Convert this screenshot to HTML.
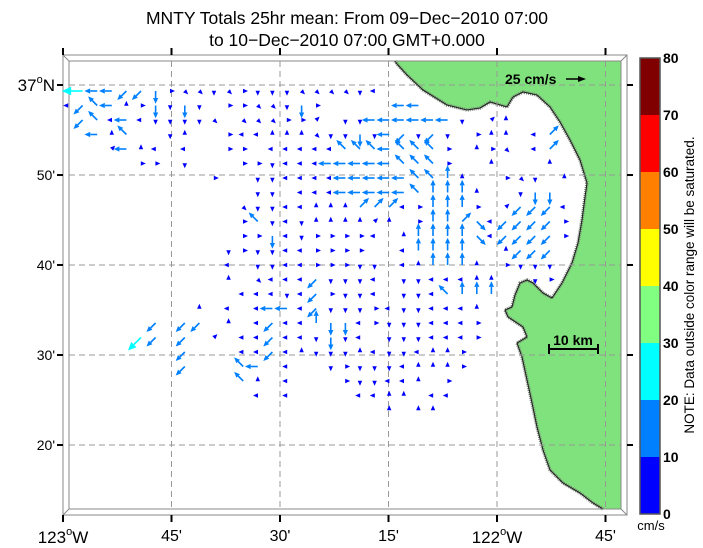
<!DOCTYPE html>
<html><head><meta charset="utf-8"><title>MNTY Totals</title>
<style>
html,body{margin:0;padding:0;background:#fff;}
svg{display:block;font-family:"Liberation Sans",Arial,sans-serif;}
</style></head>
<body>
<svg id="chart" width="703" height="548" viewBox="0 0 703 548" xmlns="http://www.w3.org/2000/svg">
<g>
<text x="347" y="24" font-size="17.5" text-anchor="middle">MNTY Totals 25hr mean: From 09−Dec−2010 07:00</text>
<text x="347" y="46" font-size="17.5" text-anchor="middle">to 10−Dec−2010 07:00 GMT+0.000</text>
</g>
<g id="land"></g>
<g id="frame">
<rect x="63" y="55" width="564" height="460" fill="none" stroke="#888" stroke-width="1"/>
<rect x="69" y="61" width="552" height="448" fill="none" stroke="#888" stroke-width="1"/>
<line x1="63" y1="55" x2="69" y2="61" stroke="#888"/>
<line x1="627" y1="55" x2="621" y2="61" stroke="#888"/>
<line x1="63" y1="515" x2="69" y2="509" stroke="#888"/>
<line x1="627" y1="515" x2="621" y2="509" stroke="#888"/>
</g>
<g id="grid"></g>
<g id="axes"></g>
<g id="vectors"></g>
<g>
<text x="505" y="84" font-size="14" font-weight="bold">25 cm/s</text>
<line x1="566" y1="79" x2="579" y2="79" stroke="#000" stroke-width="1.5"/>
<polygon points="586,79 578,76 578,82" fill="#000"/>
</g>
<g>
<text x="573" y="345" font-size="14" font-weight="bold" text-anchor="middle">10 km</text>
<line x1="549" y1="349" x2="598" y2="349" stroke="#000" stroke-width="2"/>
<line x1="549" y1="344" x2="549" y2="354" stroke="#000" stroke-width="2"/>
<line x1="598" y1="344" x2="598" y2="354" stroke="#000" stroke-width="2"/>
</g>
<g id="colorbar"></g>
<text x="651" y="530" font-size="13" text-anchor="middle">cm/s</text>
<text transform="translate(694,285) rotate(-90)" font-size="13.5" text-anchor="middle">NOTE: Data outside color range will be saturated.</text>
</svg>
<script>
// ---- data ----
var lonTicks = [-123, -122.75, -122.5, -122.25, -122, -121.75];
var lonTickLabels = ["123°W", "45'", "30'", "15'", "122°W", "45'"];
var latTicks = [37, 36.8333, 36.6667, 36.5, 36.3333];
var latTickLabels = ["37°N", "50'", "40'", "30'", "20'"];
var cbValues = [0, 10, 20, 30, 40, 50, 60, 70, 80];
var cbColors = ["#0000ff", "#0080ff", "#00ffff", "#80ff80", "#ffff00", "#ff8000", "#ff0000", "#800000"];
// vector field rows (north to south); digit = direction (numpad) weak, letter = stronger
var vecRows = [
".XDDAAB633236222333324.............",
"4AGD86B2B2.66332B6.....DD..........",
".AG4D422223.333669.22DDDDDD2.98....",
"..D8G..28..644888322B2DA2A2.688.4I.",
"...9D84.4..66.44444GGGDGGG6.863.4I.",
".....66.2...662444DDDDDGGG6..8...8.",
"..........6..224444DDDDDGGH8..632.8",
".............22.444DDDDDGHHH8..2BB.",
"............32244888III46HHH6.9AAA4",
"............6G242888898.6HHIC4AAAA6",
"............66B4266664.8HHHHC4AAAA6",
"...........2622446666..4HHHH..8AAA.",
"...........4.224466622.48HHH8.6222.",
"...........8.3444A2224.2244488..26.",
"............44424A6224.224GHHH.....",
".........8.4.4DD4A22264224448......",
"......A.AA.8.4A44HBB462224446......",
".....YA.A.9.44A442B24.2224446......",
"........A...44A4822284224886.......",
"........A...GD.4..2622248886.......",
"............G8.4...622448.6........",
".............4.4....4488.44........",
"......................8.88........."
];
var weakSpeed = 6, strongSpeed = 16;
var cyanSpeeds = {X: 26, Y: 23};
var gridLon0 = -122.9885, gridDLon = 0.03364, gridLat0 = 36.9889, gridDLat = 0.02685;
// coastline outline in map pixel space (map shape, not chart data)
var landPx = [
[395,61],[397,64],[407,75],[423,90],[447,105],[467,110],[480,108],[490,102],[507,107],[513,97],[523,92],[537,95],[550,107],[560,122],[570,140],[580,160],[587,183],[585,197],[582,220],[578,243],[572,263],[562,283],[552,298],[543,293],[533,283],[527,280],[520,283],[515,295],[512,307],[505,310],[508,317],[523,327],[527,337],[517,343],[522,357],[527,380],[532,403],[537,427],[543,450],[550,470],[563,483],[580,493],[593,503],[603,509]
];
// ---- scales ----
function xOf(lon){ return 63 + (lon + 123) * 434; }
function yOf(lat){ return 85 + (37 - lat) * 540; }
var NS = "http://www.w3.org/2000/svg";
function mk(tag, attrs, parent){ var e = document.createElementNS(NS, tag); for (var k in attrs) e.setAttribute(k, attrs[k]); parent.appendChild(e); return e; }

// land
var land = document.getElementById('land');
var coastPts = landPx.map(function(p){ return p[0] + "," + p[1]; }).join(" ");
var lp = mk('polygon', {points: coastPts + " 621,509 621,61", fill: '#80e27c', stroke: 'none'}, land);


mk('polyline', {points: coastPts, fill: 'none', stroke: '#7a8a78', 'stroke-width': 3.5, 'stroke-dasharray': '1,1'}, land);
var cl = mk('polyline', {points: coastPts, fill: 'none', stroke: '#222', 'stroke-width': 1.1}, land);



// grid + axes
var grid = document.getElementById('grid'), axes = document.getElementById('axes');
lonTicks.forEach(function(lon, i){
  var x = xOf(lon);
  if (i > 0) { var gl = mk('line', {x1: x, y1: 61, x2: x, y2: 509, stroke: '#999', 'stroke-dasharray': '6,4', 'stroke-width': 1}, grid);
    
     }
  mk('line', {x1: x, y1: 515, x2: x, y2: 522, stroke: '#000', 'stroke-width': 2}, axes);
  mk('line', {x1: x, y1: 48, x2: x, y2: 55, stroke: '#000', 'stroke-width': 2}, axes);
  var lbl = lonTickLabels[i];
  var t = mk('text', {x: x, y: 541, 'font-size': 16, 'text-anchor': 'middle'}, axes);
  
  
  if (lbl.indexOf('°') >= 0) {
    var parts = lbl.split('°');
    t.setAttribute('font-size', 17);
    t.setAttribute('y', 543);
    var a = mk('tspan', {}, t); a.textContent = parts[0];
    var b = mk('tspan', {'font-size': 11, dy: -8}, t); b.textContent = 'o';
    var c = mk('tspan', {dy: 8}, t); c.textContent = parts[1];
  } else { t.textContent = lbl; }
});
latTicks.forEach(function(lat, i){
  var y = yOf(lat);
  var gl = mk('line', {x1: 69, y1: y, x2: 621, y2: y, stroke: '#999', 'stroke-dasharray': '6,4', 'stroke-width': 1}, grid);
  
  
  mk('line', {x1: 57, y1: y, x2: 63, y2: y, stroke: '#000', 'stroke-width': 2}, axes);
  mk('line', {x1: 627, y1: y, x2: 633, y2: y, stroke: '#000', 'stroke-width': 2}, axes);
  var lbl = latTickLabels[i];
  var t = mk('text', {x: 55, y: y + 5, 'font-size': 14, 'text-anchor': 'end'}, axes);
  
  
  if (lbl.indexOf('°') >= 0) {
    var parts = lbl.split('°');
    t.setAttribute('font-size', 17);
    t.setAttribute('y', y + 6);
    var a = mk('tspan', {}, t); a.textContent = parts[0];
    var b = mk('tspan', {'font-size': 11, dy: -8}, t); b.textContent = 'o';
    var c = mk('tspan', {dy: 8}, t); c.textContent = parts[1];
  } else { t.textContent = lbl; }
});

// vectors
var dirs = {'1':[-1,-1],'2':[0,-1],'3':[1,-1],'4':[-1,0],'6':[1,0],'7':[-1,1],'8':[0,1],'9':[1,1]};
var strongMap = {A:'1',B:'2',C:'3',D:'4',F:'6',G:'7',H:'8',I:'9',X:'4',Y:'1'};
var vLon = [], vLat = [], vU = [], vV = [];
vecRows.forEach(function(row, j){
  for (var k = 0; k < row.length; k++) {
    var ch = row[k]; if (ch === '.') continue;
    var code = dirs[ch] ? ch : strongMap[ch];
    var sp = dirs[ch] ? weakSpeed : (cyanSpeeds[ch] || strongSpeed);
    var d = dirs[code], n = Math.sqrt(d[0]*d[0] + d[1]*d[1]);
    vLon.push(gridLon0 + k * gridDLon);
    vLat.push(gridLat0 - j * gridDLat);
    vU.push(sp * d[0] / n);
    vV.push(sp * d[1] / n);
  }
});
function colorFor(s){ var i = Math.min(cbColors.length - 1, Math.floor(s / 10)); return cbColors[i]; }
var vg = document.getElementById('vectors');
var pxPerCm = 0.8;
for (var i = 0; i < vU.length; i++) {
  var x0 = xOf(vLon[i]), y0 = yOf(vLat[i]);
  var s = Math.sqrt(vU[i]*vU[i] + vV[i]*vV[i]);
  var L = s * pxPerCm, ux = vU[i] / s, uy = -vV[i] / s;
  var h = Math.max(5, L * 0.45), w = h * 0.45;
  var x1 = x0 + ux * L, y1 = y0 + uy * L;
  var bx = x1 - ux * h, by = y1 - uy * h;
  var col = colorFor(s);
  var g = mk('g', {}, vg);
  
  
  if (L > h) mk('line', {x1: x0.toFixed(1), y1: y0.toFixed(1), x2: bx.toFixed(1), y2: by.toFixed(1), stroke: col, 'stroke-width': 1.6}, g);
  var p = [x1, y1, bx - uy * w, by + ux * w, bx + uy * w, by - ux * w].map(function(v){ return v.toFixed(1); });
  mk('polygon', {points: p[0]+','+p[1]+' '+p[2]+','+p[3]+' '+p[4]+','+p[5], fill: col}, g);
}

// colorbar
var cb = document.getElementById('colorbar');
function yCb(v){ return 514 - v * 5.7; }
for (var c = 0; c < cbColors.length; c++) {
  var r = mk('rect', {x: 640, y: yCb(cbValues[c+1]), width: 20, height: yCb(cbValues[c]) - yCb(cbValues[c+1]), fill: cbColors[c]}, cb);
  
  
}
mk('rect', {x: 640, y: yCb(80), width: 20, height: yCb(0) - yCb(80), fill: 'none', stroke: '#555', 'stroke-width': 1.5}, cb);
cbValues.forEach(function(v){
  var t = mk('text', {x: 663, y: yCb(v) + 5, 'font-size': 14, 'font-weight': 'bold'}, cb);
  
  
  t.textContent = v;
});
</script>
</body></html>
